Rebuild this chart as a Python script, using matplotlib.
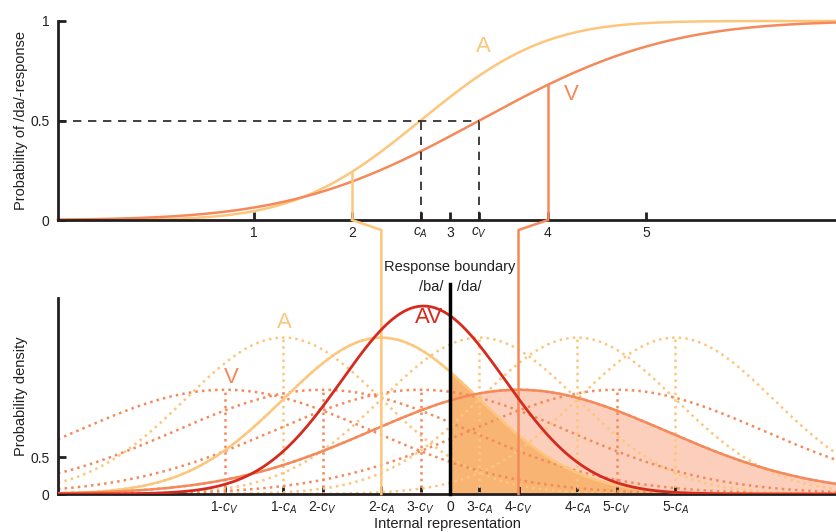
import math
import numpy as np
import matplotlib
matplotlib.use('Agg')
import matplotlib.pyplot as plt

plt.rcParams['font.family'] = ['Liberation Sans', 'DejaVu Sans']
plt.rcParams['mathtext.fontset'] = 'custom'
plt.rcParams['mathtext.rm'] = 'Liberation Sans'
plt.rcParams['mathtext.it'] = 'Liberation Sans:italic'

# model values
stimuli = [1, 2, 3, 4, 5]
c_A = 2.7          # auditory 50% point
c_V = 3.3          # visual 50% point
sigma_A = 1.0
sigma_V = 1.5
density_scale = 5.3  # densities are drawn scaled
shown_A = 2        # stimulus whose A distribution is drawn solid
shown_V = 4        # stimulus whose V distribution is drawn solid

top_ticks = [1, 2, c_A, 3, c_V, 4, 5]
top_ticklabels = ['1', '2', '$c_A$', '3', '$c_V$', '4', '5']

col_A = '#fdc67c'
col_V = '#f5895a'
col_AV = '#d52b1e'
fill_A = '#f8b473'
fill_V = '#fbcfbc'
ink = '#231f20'

erf = np.vectorize(math.erf)


def cdf(x, mu, s):
    return 0.5 * (1 + erf((np.asarray(x) - mu) / (s * math.sqrt(2))))


def dens(x, mu, s):
    x = np.asarray(x)
    return density_scale * np.exp(-0.5 * ((x - mu) / s) ** 2) / (s * math.sqrt(2 * math.pi))


W, H = 836, 532
fig = plt.figure(figsize=(W / 100, H / 100), dpi=100)
top = fig.add_axes([58 / W, (H - 220) / H, 778 / W, 199 / H])
bot = fig.add_axes([58 / W, (H - 494) / H, 778 / W, 196 / H])

for ax in (top, bot):
    ax.patch.set_visible(False)
    for sp in ('top', 'right'):
        ax.spines[sp].set_visible(False)
    for sp in ('left', 'bottom'):
        ax.spines[sp].set_linewidth(2)
        ax.spines[sp].set_color(ink)
    ax.tick_params(direction='in', length=6, width=2, color=ink, labelsize=10, labelcolor=ink)
    ax.tick_params(axis='x', pad=4)
    ax.tick_params(axis='y', pad=6)

# ---------------- top: psychometric functions ----------------
top.set_xlim(-1, 6.94)
top.set_ylim(0, 1)
x = np.linspace(-1, 6.94, 600)
top.plot(x, cdf(x, c_A, sigma_A), color=col_A, lw=1.8, clip_on=False)
top.plot(x, cdf(x, c_V, sigma_V), color=col_V, lw=1.8, clip_on=False)

dash = dict(color=ink, lw=1.2, dashes=(5, 4))
top.plot([-1, c_V], [0.5, 0.5], **dash)
top.plot([c_A, c_A], [0, 0.5], **dash)
top.plot([c_V, c_V], [0, 0.5], **dash)

pA2 = float(cdf(shown_A, c_A, sigma_A))
pV4 = float(cdf(shown_V, c_V, sigma_V))
top.plot([shown_A, shown_A], [0, pA2], color=col_A, lw=1.8)
top.plot([shown_V, shown_V], [0, pV4], color=col_V, lw=1.8)

top.set_xticks(top_ticks)
top.set_xticklabels(top_ticklabels)
top.set_yticks([0, 0.5, 1])
top.set_yticklabels(['0', '0.5', '1'])
top.text(3.34, 0.87, 'A', color=col_A, fontsize=16, ha='center', va='center')
top.text(4.24, 0.63, 'V', color=col_V, fontsize=16, ha='center', va='center')
top.set_ylabel('Probability of /da/-response', fontsize=10.5, color=ink)
top.yaxis.set_label_coords(-0.038, 0.5)

# ---------------- bottom: internal representation ----------------
bot.set_xlim(-4, 3.94)
bot.set_ylim(0, 2.65)
xb = np.linspace(-4, 3.94, 800)
xr = np.linspace(0, 3.94, 400)

mA = shown_A - c_A
mV = shown_V - c_V
prec_A, prec_V = 1 / sigma_A ** 2, 1 / sigma_V ** 2
w_A = prec_A / (prec_A + prec_V)
m_AV = w_A * mA + (1 - w_A) * mV
sigma_AV = math.sqrt(1 / (prec_A + prec_V))

bot.fill_between(xr, 0, dens(xr, mV, sigma_V), color=fill_V, lw=0, zorder=1)
bot.fill_between(xr, 0, dens(xr, mA, sigma_A), color=fill_A, lw=0, zorder=1.1)

for s in stimuli:
    for c, sg, col, solid in ((c_A, sigma_A, col_A, shown_A), (c_V, sigma_V, col_V, shown_V)):
        m = s - c
        bot.plot(xb, dens(xb, m, sg), ':', color=col, lw=1.8, zorder=2)
        if s != solid:
            bot.plot([m, m], [0, float(dens(m, m, sg))], ':', color=col, lw=1.8, zorder=2)

bot.plot(xb, dens(xb, mA, sigma_A), color=col_A, lw=1.8, zorder=3)
bot.plot(xb, dens(xb, mV, sigma_V), color=col_V, lw=1.8, zorder=3)
bot.plot(xb, dens(xb, m_AV, sigma_AV), color=col_AV, lw=2, zorder=5)

# connectors from the top panel down to the bottom panel
inv = bot.transData.inverted()
for sx, m, col in ((shown_A, mA, col_A), (shown_V, mV, col_V)):
    d = top.transData.transform((sx, 0))
    xa, ya = inv.transform(d)
    _, yk = inv.transform((d[0], d[1] - 10))
    bot.plot([xa, m, m], [ya, yk, 0], color=col, lw=1.8, zorder=4, clip_on=False)

# response boundary
bot.plot([0, 0], [0, 2.84], color='black', lw=2.5, zorder=6, clip_on=False)
bot.text(0, 3.07, 'Response boundary', ha='center', va='center', fontsize=10.5, color=ink)
bot.text(-0.07, 2.8, '/ba/', ha='right', va='center', fontsize=10.5, color=ink)
bot.text(0.07, 2.8, '/da/', ha='left', va='center', fontsize=10.5, color=ink)

bot.text(-1.69, 2.32, 'A', color=col_A, fontsize=16, ha='center', va='center')
bot.text(-2.23, 1.58, 'V', color=col_V, fontsize=16, ha='center', va='center')
bot.text(-0.21, 2.38, 'AV', color=col_AV, fontsize=16, ha='center', va='center')

ticks = [(0.0, '0')]
for s in stimuli:
    ticks.append((s - c_A, f'{s}-$c_A$'))
    ticks.append((s - c_V, f'{s}-$c_V$'))
ticks.sort()
bot.set_xticks([t for t, _ in ticks])
bot.set_xticklabels([l for _, l in ticks])
bot.set_yticks([0, 0.5])
bot.set_yticklabels(['0', '0.5'])
bot.set_ylabel('Probability density', fontsize=10.5, color=ink)
bot.yaxis.set_label_coords(-0.038, 0.5)
bot.set_xlabel('Internal representation', fontsize=10.5, color=ink)
bot.xaxis.set_label_coords(0.5, -0.117)

fig.savefig('out.png', dpi=100)
